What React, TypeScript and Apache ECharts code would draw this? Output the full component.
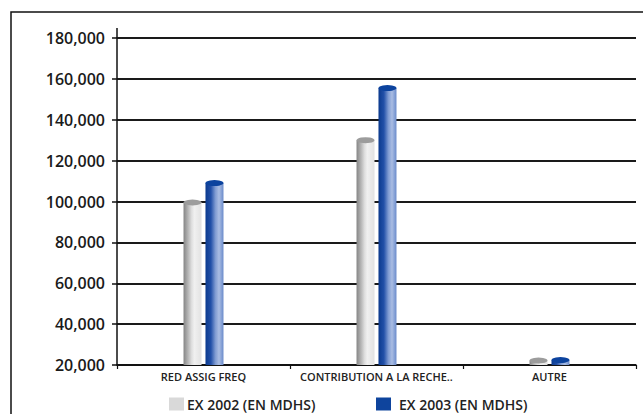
import React, { useEffect, useRef } from "react";
import * as echarts from "echarts";

const categories = ["RED ASSIG FREQ", "CONTRIBUTION A LA RECHE..", "AUTRE"];
const seriesNames = ["EX 2002 (EN MDHS)", "EX 2003 (EN MDHS)"];
const values2002 = [99500, 130000, 22200];
const values2003 = [109000, 155500, 22400];
const yMin = 20000;
const yMax = 180000;
const yInterval = 20000;

const FONT = "'Open Sans', 'Noto Sans', sans-serif";

export default function App() {
  const ref = useRef<HTMLDivElement>(null);

  useEffect(() => {
    if (!ref.current) return;
    const chart = echarts.init(ref.current, undefined, { renderer: "svg" });

    const grayGrad = new echarts.graphic.LinearGradient(0, 0, 1, 0, [
      { offset: 0, color: "#858585" },
      { offset: 0.25, color: "#b5b5b5" },
      { offset: 0.45, color: "#dedede" },
      { offset: 0.6, color: "#f0f0f0" },
      { offset: 1, color: "#e2e2e2" },
    ]);
    const blueGrad = new echarts.graphic.LinearGradient(0, 0, 1, 0, [
      { offset: 0, color: "#0b3a8e" },
      { offset: 0.3, color: "#2250a8" },
      { offset: 0.55, color: "#7f9bd2" },
      { offset: 0.75, color: "#aabde3" },
      { offset: 1, color: "#6a8bcb" },
    ]);

    const barCommon = {
      barWidth: 18,
      barGap: "22%",
    };

    const legendText = { fontFamily: FONT, fontSize: 14, fontWeight: 600, color: "#222" };

    chart.setOption({
      animation: false,
      backgroundColor: "#ffffff",
      grid: { left: 117, right: 7, top: 38, bottom: 49, containLabel: false },
      legend: [
        {
          data: [{ name: seriesNames[0], itemStyle: { color: "#d9d9d9" } }],
          left: 169,
          top: 397,
          padding: 0,
          itemWidth: 15,
          itemHeight: 13,
          icon: "rect",
          textStyle: { ...legendText, padding: [0, 0, 0, -2] },
        },
        {
          data: [{ name: seriesNames[1], itemStyle: { color: "#0e449d" } }],
          left: 376,
          top: 397,
          padding: 0,
          itemWidth: 15,
          itemHeight: 13,
          icon: "rect",
          textStyle: { ...legendText, padding: [0, 0, 0, 3] },
        },
      ],
      xAxis: {
        type: "category",
        data: categories,
        axisLine: { lineStyle: { color: "#111", width: 1.5 } },
        axisTick: { show: true, length: 4, lineStyle: { color: "#111", width: 1.2 } },
        axisLabel: {
          interval: 0,
          fontFamily: FONT,
          fontSize: 11,
          fontWeight: 600,
          color: "#222",
          margin: 6,
        },
      },
      yAxis: {
        type: "value",
        min: yMin,
        max: yMax,
        interval: yInterval,
        axisLine: { show: true, lineStyle: { color: "#111", width: 1.5 } },
        axisTick: { show: true, length: 5, lineStyle: { color: "#111", width: 1.5 } },
        splitLine: { show: true, lineStyle: { color: "#1a1a1a", width: 1.8 } },
        axisLabel: {
          fontFamily: FONT,
          fontSize: 16,
          fontWeight: 600,
          color: "#1a1a1a",
          margin: 12,
          formatter: (v: number) => v.toLocaleString("en-US"),
        },
      },
      graphic: [
        {
          type: "polyline",
          shape: { points: [[11, 430], [11, 12], [660, 12]] },
          style: { fill: "none", stroke: "#111", lineWidth: 1.5 },
          silent: true,
        },
        {
          type: "line",
          shape: { x1: 117, y1: 28, x2: 117, y2: 38 },
          style: { stroke: "#111", lineWidth: 1.5 },
          silent: true,
        },
      ],
      series: [
        {
          name: seriesNames[0],
          type: "bar",
          data: values2002,
          itemStyle: { color: grayGrad },
          ...barCommon,
          z: 2,
        },
        {
          name: seriesNames[1],
          type: "bar",
          data: values2003,
          itemStyle: { color: blueGrad },
          ...barCommon,
          z: 2,
        },
        {
          name: seriesNames[0],
          type: "pictorialBar",
          data: values2002,
          symbol: "circle",
          symbolSize: [18, 6],
          symbolPosition: "end",
          symbolOffset: [0, "-50%"],
          itemStyle: { color: "#9c9c9c" },
          ...barCommon,
          z: 3,
        },
        {
          name: seriesNames[1],
          type: "pictorialBar",
          data: values2003,
          symbol: "circle",
          symbolSize: [18, 6],
          symbolPosition: "end",
          symbolOffset: [0, "-50%"],
          itemStyle: { color: "#0c439e" },
          ...barCommon,
          z: 3,
        },
      ],
    });

    return () => {
      chart.dispose();
    };
  }, []);

  return (
    <div
      ref={ref}
      style={{ position: "absolute", left: 0, top: 0, width: 643, height: 414 }}
    />
  );
}
